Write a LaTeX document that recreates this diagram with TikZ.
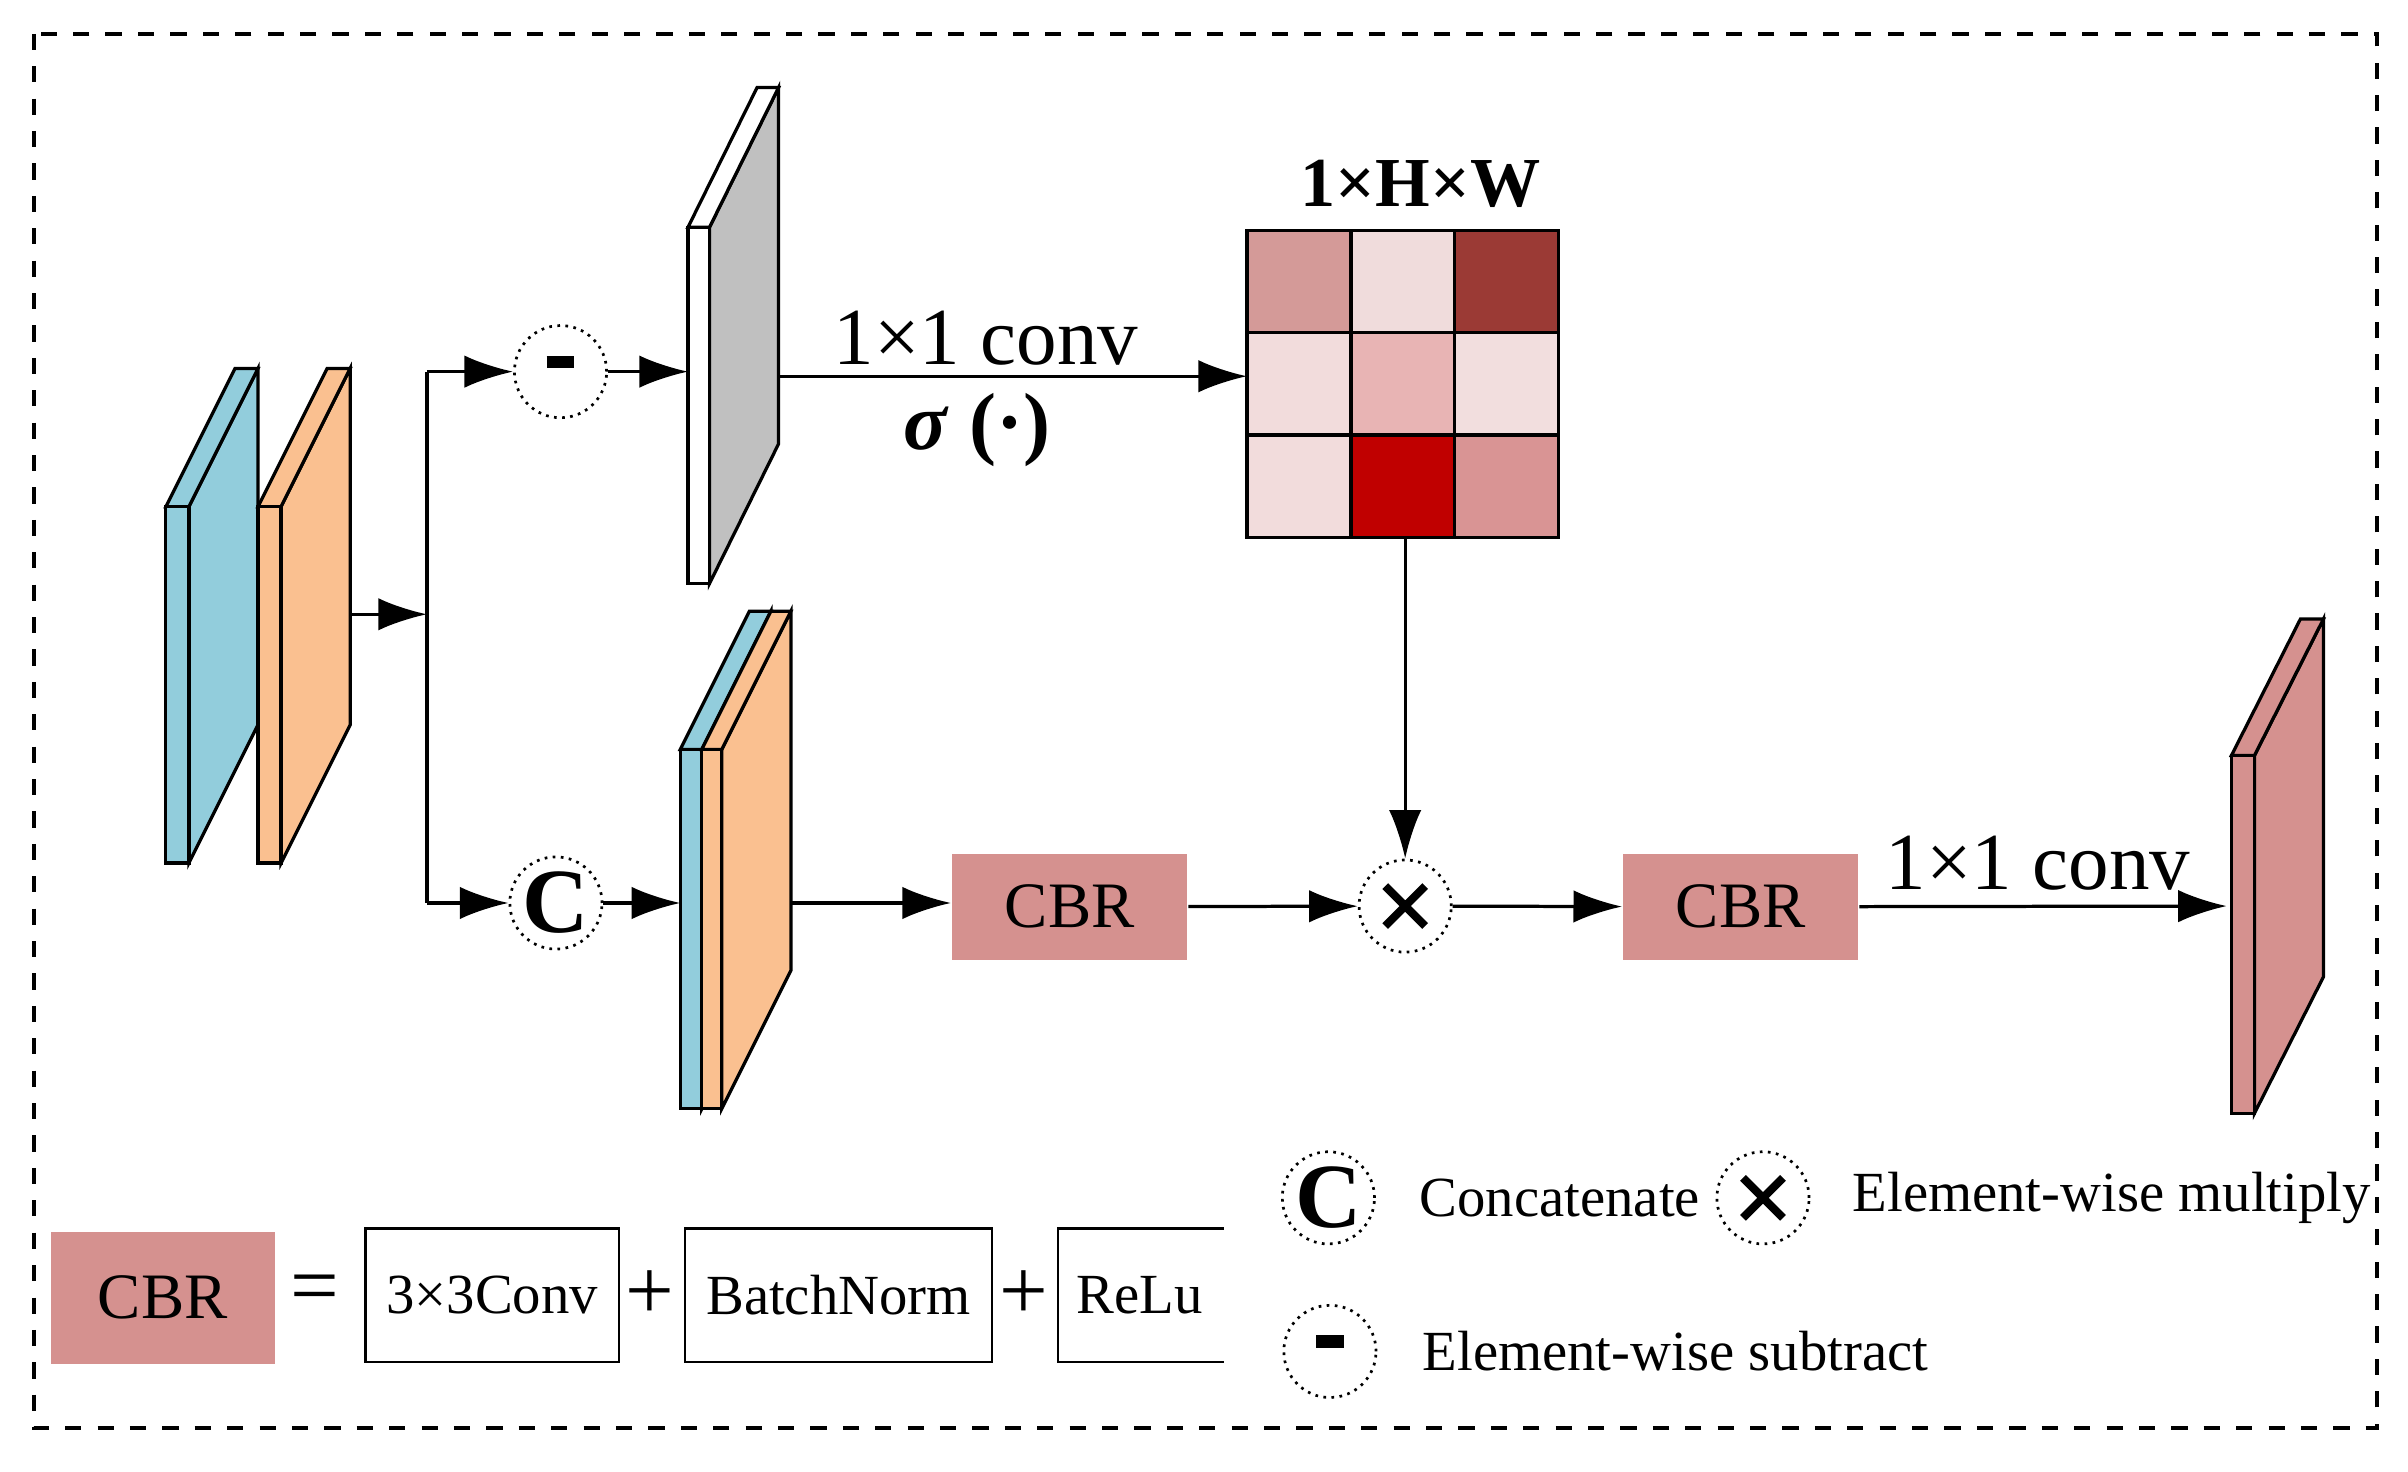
\documentclass[tikz,border=0pt]{standalone}
\usepackage{fontspec}
\setmainfont{Liberation Serif}
\usetikzlibrary{arrows.meta}
\definecolor{cbr}{HTML}{D5918F}
\definecolor{cblue}{HTML}{92CDDC}
\definecolor{corange}{HTML}{FAC090}
\definecolor{cgray}{HTML}{C0C0C0}
\tikzset{
 arr/.style={-{Latex[length=9pt,width=6pt]},line width=0.6pt},
 op/.style={circle,draw,densely dotted,line width=0.5pt,minimum size=0.6cm,inner sep=0pt,font=\fontsize{16}{16}\selectfont\bfseries},
 cbrbox/.style={fill=cbr,minimum width=1.53cm,minimum height=0.69cm,font=\fontsize{12}{12}\selectfont},
 lbox/.style={draw,line width=0.4pt,minimum height=0.87cm,font=\fontsize{10.5}{10.5}\selectfont},
 lab/.style={font=\fontsize{15}{15}\selectfont},
 leg/.style={anchor=west,font=\fontsize{10.5}{10.5}\selectfont}
}
\newcommand{\mybar}{\rule[0.5ex]{0.32em}{0.14em}}
\newcommand{\mytimes}{\tikz[baseline=-0.5ex,x=1cm,y=1cm]{\draw[solid,line width=1.5pt] (-0.13,-0.13) -- (0.13,0.13) (-0.13,0.13) -- (0.13,-0.13);}}
% slab: x,y (front top-left), w, h, dx, dy, front/top color, side color
\newcommand{\myslab}[8]{%
 \draw[fill=#8,line width=0.6pt] (#1+#3,#2) -- ++(#5,#6) -- ++(0,#4) -- (#1+#3,#2+#4) -- cycle;
 \draw[fill=#7,line width=0.6pt] (#1,#2) -- ++(#5,#6) -- ++(#3,0) -- (#1+#3,#2) -- cycle;
 \draw[fill=#7,line width=0.6pt] (#1,#2) rectangle (#1+#3,#2+#4);
}
\begin{document}
\begin{tikzpicture}[x=0.01cm,y=-0.01cm]
\useasboundingbox (0,0) rectangle (1568,958);
\draw[dashed,line width=0.8pt] (22,22) rectangle (1548,930);
% input slabs
\myslab{108}{330}{15}{232}{45}{-90}{cblue}{cblue}
\myslab{168}{330}{15}{232}{45}{-90}{corange}{corange}
\coordinate (in) at (228,400);
\coordinate (j) at (278,400);
\coordinate (jt) at (278,242);
\coordinate (jb) at (278,588);
\draw[arr] (in) -- (j);
\draw[line width=0.6pt] (jt) -- (jb);
\node[op] (m) at (365,242) {\mybar};
\node[op,font=\fontsize{17}{17}\selectfont\bfseries] (c) at (362,588) {C};
\draw[arr] (jt) -- (m);
\draw[arr] (jb) -- (c);
% gray slab
\myslab{448}{148}{14}{232}{45}{-91}{white}{cgray}
\coordinate (g) at (448,242);
\draw[arr] (m) -- (g);
% grid
\foreach \c [count=\i from 0] in {D49A98,F0DCDC,9B3A35,F2DCDC,E8B4B4,F2DEDE,F2DCDC,C00000,D99494}{
 \pgfmathtruncatemacro{\r}{int(\i/3)}
 \pgfmathtruncatemacro{\q}{mod(\i,3)}
 \definecolor{tmp}{HTML}{\c}
 \fill[tmp] (812+\q*67.7,150+\r*66.7) rectangle ++(67.7,66.7);
}
\draw[line width=0.6pt] (879.7,150) -- (879.7,350) (947.3,150) -- (947.3,350)
 (812,216.7) -- (1015,216.7) (812,283.3) -- (1015,283.3);
\draw[line width=0.6pt] (812,150) rectangle (1015,350);
\node[font=\fontsize{13}{13}\selectfont\bfseries] (t) at (925,120) {1×H×W};
\coordinate (gs) at (507,245);
\coordinate (ge) at (812,245);
\draw[arr] (gs) -- (ge);
\node[lab] (l1) at (642,220) {1×1 conv};
\node[lab,font=\fontsize{15}{15}\selectfont\bfseries] (l2) at (636,280) {\textit{σ} (·)};
% concat slab
\myslab{443}{488}{14}{234}{45}{-90}{cblue}{cblue}
\myslab{457}{488}{13}{234}{45}{-90}{corange}{corange}
\coordinate (cs) at (443,588);
\draw[arr] (c) -- (cs);
\node[cbrbox] (b1) at (696.5,590.5) {CBR};
\node[op] (x) at (915,590) {\mytimes};
\node[cbrbox] (b2) at (1133.5,590.5) {CBR};
\coordinate (co) at (515,588);
\draw[arr] (co) -- (b1.west|-co);
\draw[arr] (b1) -- (x);
\draw[arr] (x) -- (b2);
\coordinate (gb) at (915,350);
\draw[arr] (gb) -- (x);
% output
\myslab{1453}{492}{15}{233}{45}{-89}{cbr}{cbr}
\coordinate (o) at (1450,590);
\draw[arr] (b2) -- (o);
\node[lab] (l3) at (1327,562) {1×1 conv};
% legend
\node[fill=cbr,minimum width=1.46cm,minimum height=0.86cm,font=\fontsize{12}{12}\selectfont] (lb) at (106,845) {CBR};
\node[font=\fontsize{16}{16}\selectfont] (eq) at (205,843) {=};
\node[lbox,minimum width=1.65cm] (k1) at (320.5,843.5) {3×3Conv};
\node[font=\fontsize{16}{16}\selectfont] (p1) at (423,843) {+};
\node[lbox,minimum width=2cm] (k2) at (546,843.5) {BatchNorm};
\node[font=\fontsize{16}{16}\selectfont] (p2) at (667,843) {+};
\node[font=\fontsize{10.5}{10.5}\selectfont] (k3) at (742,843.5) {ReLu};
\draw[line width=0.4pt] (797,800) -- (689,800) -- (689,887) -- (797,887);
\node[op,font=\fontsize{17}{17}\selectfont\bfseries] (lc) at (865,780) {C};
\node[leg] (lct) at (912,780) {Concatenate};
\node[op] (lx) at (1148,780) {\mytimes};
\node[leg] (lxt) at (1194,780) {Element-wise multiply};
\node[op] (lm) at (866,880) {\mybar};
\node[leg] (lmt) at (914,880) {Element-wise subtract};
\end{tikzpicture}
\end{document}
